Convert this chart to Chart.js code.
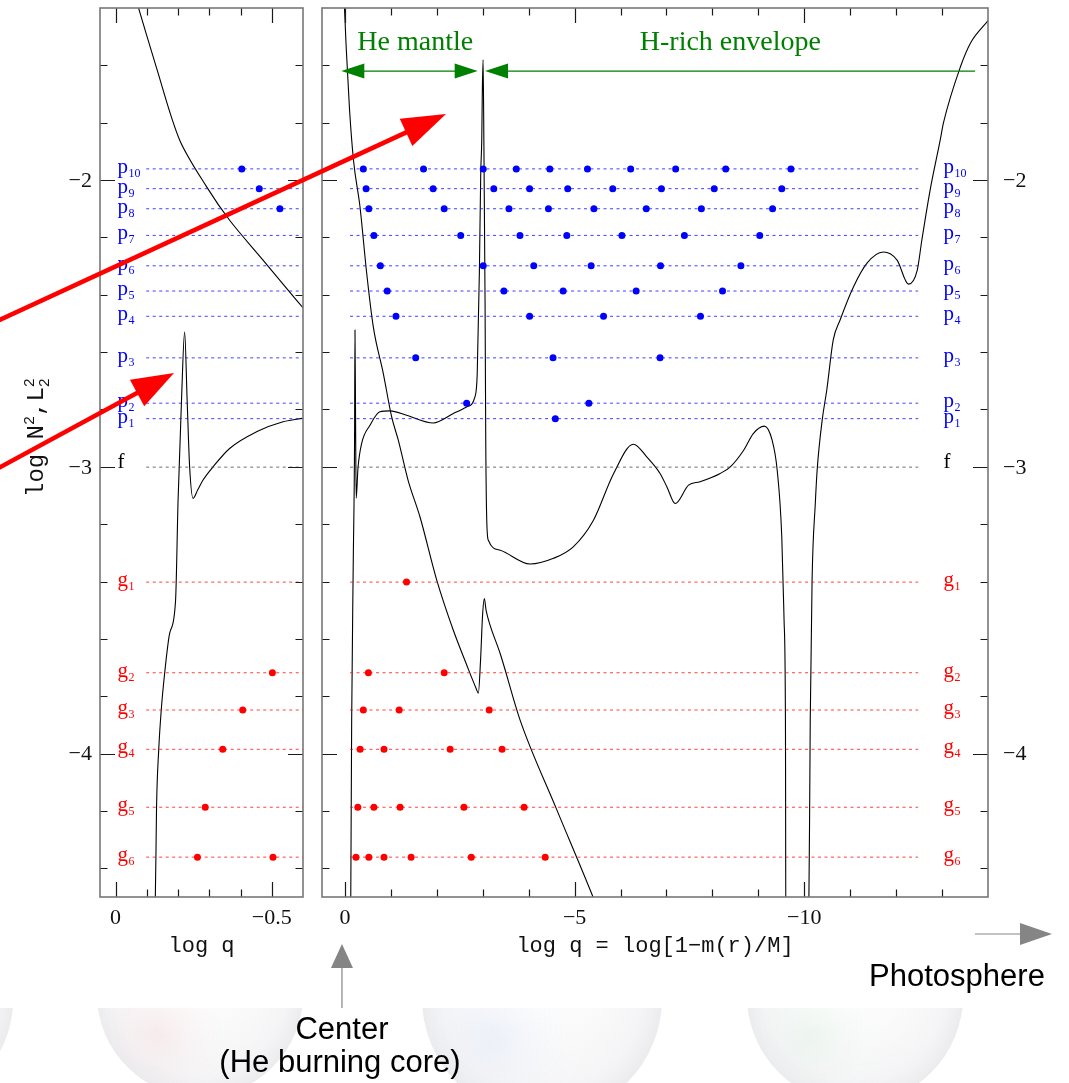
<!DOCTYPE html>
<html>
<head>
<meta charset="utf-8">
<script src="https://cdn.jsdelivr.net/npm/chart.js@4.4.0/dist/chart.umd.min.js"></script>
<style>
  html, body { margin: 0; padding: 0; background: #fff; }
  #page { position: relative; width: 1069px; height: 1083px; overflow: hidden; }
  #page canvas { position: absolute; top: 0; }
  #bg { left: 0; z-index: 0; }
  #core { left: 0; z-index: 1; }
  #env { left: 312px; z-index: 1; }
  #overlay { left: 0; z-index: 2; pointer-events: none; }
</style>
</head>
<body>
<div id="page">
  <canvas id="bg" width="1069" height="1083"></canvas>
  <canvas id="core" width="312" height="1083"></canvas>
  <canvas id="env" width="757" height="1083"></canvas>
  <canvas id="overlay" width="1069" height="1083"></canvas>
</div>
<script>
// mode frequencies, log N^2 / L^2 units
const pModes = ['10', '9', '8', '7', '6', '5', '4', '3', '2', '1'];
const pLevels = [-1.961, -2.030, -2.100, -2.193, -2.299, -2.387, -2.475, -2.620, -2.778, -2.832];
const fLevel = -3.001;
const gModes = ['1', '2', '3', '4', '5', '6'];
const gLevels = [-3.402, -3.718, -3.848, -3.985, -4.187, -4.361];

// node positions (log q) of each mode, outer panel
const pNodesEnv = [
  [-0.40, -1.71, -3.01, -3.73, -4.46, -5.28, -6.22, -7.20, -8.29, -9.71],
  [-0.46, -1.92, -3.24, -4.02, -4.85, -5.83, -6.89, -8.04, -9.51],
  [-0.52, -2.16, -3.57, -4.43, -5.42, -6.56, -7.76, -9.31],
  [-0.63, -2.52, -3.81, -4.83, -6.03, -7.39, -9.03],
  [-0.77, -3.01, -4.11, -5.36, -6.87, -8.62],
  [-0.92, -3.46, -4.75, -6.34, -8.22],
  [-1.11, -4.02, -5.63, -7.74],
  [-1.54, -4.53, -6.86],
  [-2.65, -5.31],
  [-4.58]
];
const gNodesEnv = [
  [-1.34],
  [-0.51, -2.16],
  [-0.40, -1.18, -3.14],
  [-0.33, -0.85, -2.29, -3.42],
  [-0.28, -0.63, -1.20, -2.59, -3.90],
  [-0.24, -0.52, -0.85, -1.44, -2.75, -4.36]
];
// node positions in the core close-up
const pNodesCore = [[-0.404], [-0.46], [-0.526], [], [], [], [], [], [], []];
const gNodesCore = [[], [-0.502], [-0.407], [-0.343], [-0.287], [-0.262, -0.504]];

// Lamb (L2^2) and Brunt-Vaisala (N^2) profiles, core close-up
const lambCore = [
  [-0.068, -1.38], [-0.130, -1.605], [-0.205, -1.860], [-0.291, -2.023],
  [-0.365, -2.140], [-0.472, -2.279], [-0.579, -2.419], [-0.62, -2.47]
];
const bvCore = [
  [-0.125, -4.65], [-0.127, -4.51], [-0.129, -4.364], [-0.131, -4.190], [-0.138, -3.987],
  [-0.146, -3.850], [-0.157, -3.720], [-0.173, -3.581], [-0.192, -3.465], [-0.200, -3.116],
  [-0.211, -2.767], [-0.221, -2.529], [-0.229, -2.767], [-0.237, -3.000], [-0.248, -3.110],
  [-0.263, -3.080], [-0.280, -3.046], [-0.312, -3.000], [-0.365, -2.936], [-0.451, -2.878],
  [-0.536, -2.843], [-0.598, -2.831], [-0.62, -2.828]
];
// same profiles over the whole star
const lambEnv = [
  [0.09, -1.25], [0.02, -1.372], [-0.03, -1.547], [-0.10, -1.756], [-0.185, -1.930],
  [-0.327, -2.093], [-0.473, -2.325], [-0.617, -2.512], [-0.834, -2.674], [-1.017, -2.826],
  [-1.161, -2.907], [-1.373, -3.046], [-1.634, -3.175], [-1.998, -3.395], [-2.359, -3.570],
  [-2.636, -3.685], [-2.854, -3.772], [-2.904, -3.789], [-2.952, -3.674], [-2.996, -3.517],
  [-3.035, -3.459], [-3.072, -3.500], [-3.159, -3.552], [-3.377, -3.650], [-3.813, -3.883],
  [-4.597, -4.190], [-5.403, -4.501], [-5.556, -4.564]
];
const bvEnv = [
  [-0.120, -4.721], [-0.146, -3.883], [-0.181, -3.325], [-0.209, -2.907], [-0.218, -2.523],
  [-0.231, -2.837], [-0.244, -3.109], [-0.283, -3.005], [-0.364, -2.918], [-0.545, -2.855],
  [-0.76, -2.808], [-0.98, -2.805], [-1.34, -2.820], [-1.92, -2.847], [-2.36, -2.814],
  [-2.65, -2.791], [-2.83, -2.756], [-2.88, -2.673], [-2.926, -2.324], [-2.956, -1.976],
  [-2.978, -1.860], [-2.991, -1.686], [-3.007, -1.581], [-3.024, -1.860], [-3.05, -2.419],
  [-3.065, -2.907], [-3.087, -3.186], [-3.122, -3.256], [-3.38, -3.291], [-4.03, -3.339],
  [-4.54, -3.319], [-4.97, -3.279], [-5.41, -3.186], [-5.85, -3.023], [-6.28, -2.921],
  [-6.57, -2.965], [-6.86, -3.023], [-7.01, -3.070], [-7.19, -3.128], [-7.48, -3.064],
  [-7.73, -3.052], [-8.17, -3.023], [-8.39, -3.000], [-8.68, -2.942], [-8.89, -2.884],
  [-9.13, -2.858], [-9.30, -2.907], [-9.41, -3.011], [-9.51, -3.244], [-9.56, -3.535],
  [-9.59, -3.883], [-9.60, -4.70], [-10.09, -4.70], [-10.13, -3.883], [-10.17, -3.395],
  [-10.24, -3.128], [-10.28, -3.012], [-10.39, -2.837], [-10.49, -2.732], [-10.63, -2.558],
  [-10.78, -2.488], [-11.07, -2.373], [-11.37, -2.289], [-11.72, -2.251], [-12.02, -2.279],
  [-12.27, -2.363], [-12.46, -2.314], [-12.56, -2.209], [-12.74, -2.035], [-12.96, -1.860],
  [-13.03, -1.801], [-13.40, -1.605], [-13.62, -1.522], [-14.01, -1.442], [-14.2, -1.40]
];

// axis ticks
const coreXMajor = [0, -0.5];
const coreXMinor = [-0.1, -0.2, -0.3, -0.4];
const coreXLabels = ['0', '\u22120.5'];
const envXMajor = [0, -5, -10];
const envXMinor = [-1, -2, -3, -4, -6, -7, -8, -9, -11, -12, -13];
const envXLabels = ['0', '\u22125', '\u221210'];
const yMajor = [-4, -3, -2];
const yMinor = [-4.4, -4.2, -3.8, -3.6, -3.4, -3.2, -2.8, -2.6, -2.4, -2.2, -1.8, -1.6];
const yLabels = ['\u22124', '\u22123', '\u22122'];

const BLUE = '#0000ff', RED = '#ff0000', GREEN = '#008000';
const SERIF = '"Liberation Serif", "DejaVu Serif", serif';
const MONO = '"Liberation Mono", "DejaVu Sans Mono", monospace';

function levelLine(level, x0, x1, color) {
  return {
    data: [{ x: x0, y: level }, { x: x1, y: level }],
    showLine: true, borderColor: color, borderWidth: 1, borderDash: [3, 3.5],
    pointRadius: 0
  };
}

function modeLines(x0, x1) {
  const sets = pLevels.map(v => levelLine(v, x0, x1, 'rgba(0,0,255,0.75)'));
  sets.push(levelLine(fLevel, x0, x1, 'rgba(60,60,60,0.75)'));
  gLevels.forEach(v => sets.push(levelLine(v, x0, x1, 'rgba(255,0,0,0.75)')));
  return sets;
}

function nodeDots(nodes, levels, color) {
  const pts = [];
  nodes.forEach((row, i) => row.forEach(x => pts.push({ x: x, y: levels[i] })));
  return { data: pts, backgroundColor: color, borderWidth: 0, pointRadius: 3.5, showLine: false };
}

// smooth: plain bezier for the Lamb curves, monotone where N^2 has spikes
function profile(pairs, smooth) {
  const ds = {
    data: pairs.map(p => ({ x: p[0], y: p[1] })),
    showLine: true, borderColor: '#000', borderWidth: 1.1, pointRadius: 0
  };
  if (smooth) ds.tension = 0.3;
  else ds.cubicInterpolationMode = 'monotone';
  return ds;
}

function drawModeLabel(ctx, px, py, letter, sub, color) {
  ctx.fillStyle = color;
  ctx.textAlign = 'left';
  ctx.textBaseline = 'alphabetic';
  ctx.font = '21px ' + SERIF;
  const dy = letter === 'f' ? 1 : 4;
  ctx.fillText(letter, px, py + dy);
  if (sub) {
    const w = ctx.measureText(letter).width;
    ctx.font = '12px ' + SERIF;
    ctx.fillText(sub, px + w + 0.5, py + dy + 4);
  }
}

// box, inward ticks, tick labels and mode names for one panel
function panelPlugin(opt) {
  return {
    id: 'panelFrame',
    afterDraw(chart) {
      const ctx = chart.ctx, a = chart.chartArea;
      const x = chart.scales.x, y = chart.scales.y;
      ctx.save();

      // mode names on the level lines
      const lx = x.getPixelForValue(opt.labelX);
      pLevels.forEach((v, i) => drawModeLabel(ctx, lx, y.getPixelForValue(v), 'p', pModes[i], BLUE));
      drawModeLabel(ctx, lx, y.getPixelForValue(fLevel), 'f', '', '#000');
      gLevels.forEach((v, i) => drawModeLabel(ctx, lx, y.getPixelForValue(v), 'g', gModes[i], RED));

      // ticks
      ctx.strokeStyle = '#1a1a1a';
      ctx.lineWidth = 1.2;
      ctx.beginPath();
      const xt = (vals, len) => vals.forEach(v => {
        const px = Math.round(x.getPixelForValue(v)) + 0.5;
        ctx.moveTo(px, a.top); ctx.lineTo(px, a.top + len);
        ctx.moveTo(px, a.bottom); ctx.lineTo(px, a.bottom - len);
      });
      const yt = (vals, len) => vals.forEach(v => {
        const py = Math.round(y.getPixelForValue(v)) + 0.5;
        ctx.moveTo(a.left, py); ctx.lineTo(a.left + len, py);
        ctx.moveTo(a.right, py); ctx.lineTo(a.right - len, py);
      });
      xt(opt.xMajor, 15); xt(opt.xMinor, 7.5);
      yt(yMajor, 15); yt(yMinor, 7.5);
      ctx.stroke();

      // frame
      ctx.strokeStyle = '#777';
      ctx.lineWidth = 1.6;
      ctx.strokeRect(a.left, a.top, a.right - a.left, a.bottom - a.top);

      // tick labels
      ctx.fillStyle = '#111';
      ctx.font = '22px ' + SERIF;
      ctx.textBaseline = 'middle';
      ctx.textAlign = 'center';
      opt.xMajor.forEach((v, i) => ctx.fillText(opt.xLabels[i], x.getPixelForValue(v), a.bottom + 21));
      ctx.textAlign = opt.yLabelSide === 'left' ? 'right' : 'left';
      const yl = opt.yLabelSide === 'left' ? a.left - 8 : a.right + 15;
      yMajor.forEach((v, i) => ctx.fillText(yLabels[i], yl, y.getPixelForValue(v) + 1));

      // x title
      ctx.font = '22px ' + MONO;
      ctx.textAlign = 'center';
      ctx.textBaseline = 'alphabetic';
      ctx.fillText(opt.xTitle, (a.left + a.right) / 2, a.bottom + 55);

      if (opt.extra) opt.extra(chart);
      ctx.restore();
    }
  };
}

function yTitle(chart) {
  const ctx = chart.ctx;
  ctx.save();
  ctx.translate(35, 433);
  ctx.rotate(-Math.PI / 2);
  ctx.fillStyle = '#111';
  ctx.textBaseline = 'alphabetic';
  ctx.textAlign = 'left';
  let x = -64;
  const big = '24px ' + MONO, small = '15px ' + MONO;
  ctx.font = big; ctx.fillText('log N', x, 8); x += ctx.measureText('log N').width;
  ctx.font = small; ctx.fillText('2', x, -1); x += ctx.measureText('2').width;
  ctx.font = big; ctx.fillText(',L', x, 8); x += ctx.measureText(',L').width;
  ctx.font = small; ctx.fillText('2', x, -1); ctx.fillText('2', x, 14);
  ctx.restore();
}

// He mantle / H-rich envelope markers
function regionMarks(chart) {
  const ctx = chart.ctx, x = chart.scales.x, y = chart.scales.y;
  const yy = y.getPixelForValue(-1.62);
  const head = (tip, dir) => {
    ctx.beginPath();
    ctx.moveTo(tip, yy);
    ctx.lineTo(tip + dir * 23, yy - 7.5);
    ctx.lineTo(tip + dir * 23, yy + 7.5);
    ctx.closePath();
    ctx.fill();
  };
  ctx.save();
  ctx.strokeStyle = GREEN; ctx.fillStyle = GREEN; ctx.lineWidth = 1.3;
  const a0 = x.getPixelForValue(0.08), a1 = x.getPixelForValue(-2.89);
  const b0 = x.getPixelForValue(-3.05), b1 = x.getPixelForValue(-13.72);
  ctx.beginPath();
  ctx.moveTo(a0 + 10, yy); ctx.lineTo(a1 - 10, yy);
  ctx.moveTo(b0 + 10, yy); ctx.lineTo(b1, yy);
  ctx.stroke();
  head(a0, 1); head(a1, -1); head(b0, 1);
  ctx.font = '28px ' + SERIF;
  ctx.textAlign = 'center';
  ctx.textBaseline = 'alphabetic';
  ctx.fillText('He mantle', x.getPixelForValue(-1.53), 50);
  ctx.fillText('H-rich envelope', x.getPixelForValue(-8.39), 50);
  ctx.restore();
}

function baseOptions(xmin, xmax, pad) {
  return {
    responsive: false,
    animation: false,
    layout: { padding: pad },
    plugins: { legend: { display: false }, tooltip: { enabled: false } },
    scales: {
      x: { type: 'linear', min: xmin, max: xmax, reverse: true, display: false },
      y: { type: 'linear', min: -4.5, max: -1.4, display: false }
    }
  };
}

const coreChart = new Chart(document.getElementById('core'), {
  type: 'scatter',
  data: {
    datasets: [
      ...modeLines(-0.098, -0.6),
      nodeDots(pNodesCore, pLevels, BLUE),
      nodeDots(gNodesCore, gLevels, RED),
      profile(lambCore, true),
      profile(bvCore, false)
    ]
  },
  options: baseOptions(-0.6, 0.05, { left: 100, top: 8, right: 9, bottom: 186 }),
  plugins: [panelPlugin({
    labelX: -0.006, xMajor: coreXMajor, xMinor: coreXMinor, xLabels: coreXLabels,
    yLabelSide: 'left', xTitle: 'log q', extra: yTitle
  })]
});

const envChart = new Chart(document.getElementById('env'), {
  type: 'scatter',
  data: {
    datasets: [
      ...modeLines(-0.11, -12.48),
      nodeDots(pNodesEnv, pLevels, BLUE),
      nodeDots(gNodesEnv, gLevels, RED),
      profile(lambEnv, false),
      profile(bvEnv, false)
    ]
  },
  options: baseOptions(-14.0, 0.5, { left: 10, top: 8, right: 81, bottom: 186 }),
  plugins: [panelPlugin({
    labelX: -13.03, xMajor: envXMajor, xMinor: envXMinor, xLabels: envXLabels,
    yLabelSide: 'right', xTitle: 'log q = log[1\u2212m(r)/M]', extra: regionMarks
  })]
});

// faint slide bubbles along the bottom
(function () {
  const c = document.getElementById('bg').getContext('2d');
  const bubbles = [
    { cx: -95, cy: 1000, r: 108, tint: 'rgba(170,190,235,0.18)' },
    { cx: 200, cy: 994, r: 103, tint: 'rgba(240,175,175,0.16)' },
    { cx: 542, cy: 998, r: 120, tint: 'rgba(175,200,240,0.16)' },
    { cx: 855, cy: 996, r: 108, tint: 'rgba(185,230,195,0.16)' }
  ];
  c.save();
  c.beginPath(); c.rect(0, 1008, 1069, 75); c.clip();
  bubbles.forEach(b => {
    const g = c.createRadialGradient(b.cx, b.cy - 30, b.r * 0.2, b.cx, b.cy, b.r);
    g.addColorStop(0, 'rgba(252,252,252,0.5)');
    g.addColorStop(0.8, 'rgba(242,242,244,0.8)');
    g.addColorStop(1, 'rgba(232,232,236,0.85)');
    c.fillStyle = g;
    c.beginPath(); c.arc(b.cx, b.cy, b.r, 0, Math.PI * 2); c.fill();
    const t = c.createRadialGradient(b.cx - b.r * 0.4, b.cy + 40, 5, b.cx - b.r * 0.4, b.cy + 40, b.r * 0.8);
    t.addColorStop(0, b.tint);
    t.addColorStop(1, 'rgba(255,255,255,0)');
    c.fillStyle = t;
    c.beginPath(); c.arc(b.cx, b.cy, b.r, 0, Math.PI * 2); c.fill();
  });
  c.restore();
})();

// pointer arrows and captions over both panels
(function () {
  const c = document.getElementById('overlay').getContext('2d');
  function arrow(x0, y0, x1, y1, len, half, lw, color) {
    const ang = Math.atan2(y1 - y0, x1 - x0);
    const bx = x1 - len * Math.cos(ang), by = y1 - len * Math.sin(ang);
    c.strokeStyle = color; c.fillStyle = color; c.lineWidth = lw;
    c.beginPath(); c.moveTo(x0, y0); c.lineTo(bx + 2 * Math.cos(ang), by + 2 * Math.sin(ang)); c.stroke();
    c.beginPath();
    c.moveTo(x1, y1);
    c.lineTo(bx + half * Math.sin(ang), by - half * Math.cos(ang));
    c.lineTo(bx - half * Math.sin(ang), by + half * Math.cos(ang));
    c.closePath(); c.fill();
  }
  arrow(-5, 322, 446, 114, 44, 15, 4.5, RED);
  arrow(-5, 470, 174, 373, 42, 15, 4.5, RED);

  // photosphere / centre pointers
  const zeroX = 312 + envChart.scales.x.getPixelForValue(0) - 3;
  arrow(975, 934, 1052, 934, 32, 11, 1.2, '#858585');
  arrow(zeroX, 1008, zeroX, 944, 24, 11, 1.2, '#858585');

  c.fillStyle = '#000';
  c.font = '31px "Liberation Sans", Arial, sans-serif';
  c.textBaseline = 'alphabetic';
  c.textAlign = 'center';
  c.fillText('Photosphere', 957, 986);
  c.fillText('Center', zeroX, 1039);
  c.fillText('(He burning core)', zeroX - 2, 1072);
})();
</script>
</body>
</html>
